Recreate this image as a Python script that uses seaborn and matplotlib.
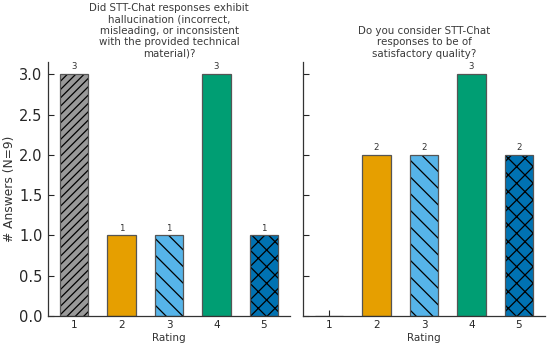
import pandas as pd
import seaborn as sns
import matplotlib.pyplot as plt

# Data
ratings = [1, 2, 3, 4, 5]
hallucination_counts = [3, 1, 1, 3, 1]
quality_counts = [0, 2, 2, 3, 2]
titles = [
    "Did STT-Chat responses exhibit\nhallucination (incorrect,\nmisleading, or inconsistent\nwith the provided technical\nmaterial)?",
    "Do you consider STT-Chat\nresponses to be of\nsatisfactory quality?",
]

colors = ["#999999", "#E69F00", "#56B4E9", "#009E73", "#0072B2"]
hatches = ["////", "", "\\\\", "", "xx"]

sns.set_style("ticks")
plt.rcParams["font.family"] = ["DejaVu Sans"]
plt.rcParams["hatch.linewidth"] = 0.9

fig = plt.figure(figsize=(5.5, 3.47), dpi=100)
ax1 = fig.add_axes([0.0873, 0.0893, 0.4400, 0.7317])
ax2 = fig.add_axes([0.5510, 0.0893, 0.4400, 0.7317], sharey=ax1)

for ax, counts, title in zip([ax1, ax2], [hallucination_counts, quality_counts], titles):
    df = pd.DataFrame({"Rating": ratings, "count": counts})
    sns.barplot(data=df, x="Rating", y="count", hue="Rating", palette=colors,
                native_scale=True, width=0.6, legend=False, ax=ax, saturation=1,
                edgecolor="#555555", linewidth=0.9)
    # hatch patterns, drawn in black while the bar outline stays grey
    for patch, h in zip(ax.patches, hatches):
        patch.set_hatch(h)
        patch._hatch_color = (0, 0, 0, 1)
    for cont in ax.containers:
        labels = [f"{int(v)}" if v > 0 else "" for v in cont.datavalues]
        ax.bar_label(cont, labels=labels, fontsize=6.2, padding=2, color="#333333")
    ax.set_xlim(0.45, 5.55)
    ax.set_xticks(ratings)
    ax.set_xlabel("Rating", fontsize=7.5, color="#333333", labelpad=2)
    ax.set_title(title, fontsize=7.4, color="#3a3a3a", pad=4, linespacing=1.18)
    ax.tick_params(direction="in", length=4, width=0.8)
    ax.tick_params(axis="x", labelsize=7.5, pad=3)
    for s in ["top", "right"]:
        ax.spines[s].set_visible(False)
    for s in ["left", "bottom"]:
        ax.spines[s].set_linewidth(0.9)
        ax.spines[s].set_color("#333333")

ax1.set_ylim(0, 3.15)
ax1.set_yticks([0, 0.5, 1.0, 1.5, 2.0, 2.5, 3.0])
ax1.tick_params(axis="y", labelsize=10.5, pad=4)
ax1.set_ylabel("# Answers (N=9)", fontsize=8.8, color="#333333", labelpad=2)
ax2.set_ylabel("")
ax2.tick_params(axis="y", labelleft=False)

fig.savefig("out.png", dpi=100)
